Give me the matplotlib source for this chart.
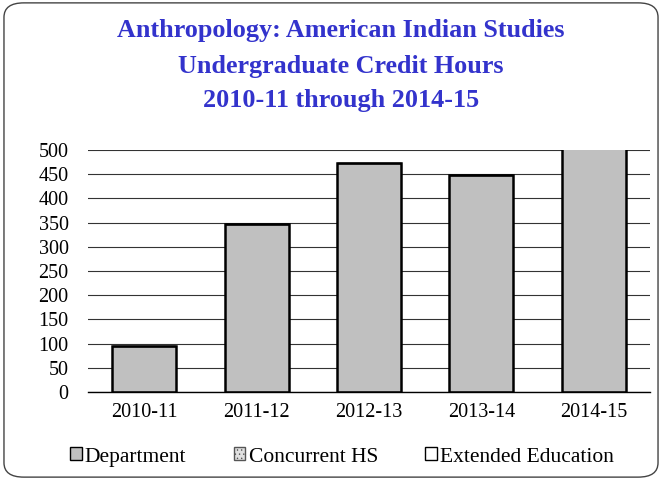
import matplotlib
matplotlib.use("Agg")
import matplotlib.pyplot as plt
from matplotlib.patches import FancyBboxPatch, Patch
import numpy as np

categories = ["2010-11", "2011-12", "2012-13", "2013-14", "2014-15"]
department = [96, 348, 473, 448, 505]
concurrent_hs = [0, 0, 0, 0, 0]
extended_ed = [0, 0, 0, 0, 0]
yticks = [0, 50, 100, 150, 200, 250, 300, 350, 400, 450, 500]

plt.rcParams['font.family'] = ['Liberation Serif', 'DejaVu Serif']
plt.rcParams['hatch.linewidth'] = 0.5

fig = plt.figure(figsize=(6.62, 4.8), dpi=100)
border = FancyBboxPatch((0.006, 0.006), 0.988, 0.988, boxstyle="round,pad=0,rounding_size=0.03",
                        transform=fig.transFigure, fill=False, edgecolor="#444444", linewidth=1.0)
fig.patches.append(border)

ax = fig.add_axes([88/662, 1 - 392/480, (650-88)/662, (392-150)/480])
x = np.arange(len(categories))
w = 0.57
ax.bar(x, department, w, color="#C0C0C0", edgecolor="black", linewidth=1.8, zorder=3)
ax.bar(x, concurrent_hs, w, bottom=department, color="#DDDDDD", edgecolor="black", hatch="....", linewidth=1.0, zorder=3)
ax.bar(x, extended_ed, w, bottom=np.array(department) + np.array(concurrent_hs), color="white", edgecolor="black", linewidth=1.0, zorder=3)

ax.set_ylim(0, 500)
ax.set_xlim(-0.5, len(categories) - 0.5)
ax.set_yticks(yticks)
ax.set_xticks(x)
ax.set_xticklabels(categories)
ax.tick_params(axis="both", length=0, labelsize=14.5, colors="black")
ax.tick_params(axis="y", pad=14)
ax.tick_params(axis="x", pad=8)
ax.yaxis.grid(True, color="#333333", linewidth=0.8, zorder=0)
for s in ["left", "right", "top"]:
    ax.spines[s].set_visible(False)
ax.spines["bottom"].set_color("black")
ax.spines["bottom"].set_linewidth(1.0)
ax.spines["bottom"].set_zorder(4)

title_kw = dict(ha="center", va="center", color="#3333CC", fontsize=18.8, fontweight="bold")
fig.text(341/662, 1 - 31/480, "Anthropology: American Indian Studies", **title_kw)
fig.text(341/662, 1 - 66/480, "Undergraduate Credit Hours", **title_kw)
fig.text(341/662, 1 - 101/480, "2010-11 through 2014-15", **title_kw)

handles = [Patch(facecolor="#C0C0C0", edgecolor="black", linewidth=1.0),
           Patch(facecolor="#E0E0E0", edgecolor="#555555", hatch="....", linewidth=1.0),
           Patch(facecolor="white", edgecolor="black", linewidth=1.0)]
fig.legend(handles, ["Department", "Concurrent HS", "Extended Education"], loc="center",
           bbox_to_anchor=(342/662, 1 - 457/480), ncol=3, frameon=False, fontsize=15.5,
           handlelength=0.55, handleheight=0.55, handletextpad=0.15, columnspacing=2.2)

fig.savefig("out.png", dpi=100)
